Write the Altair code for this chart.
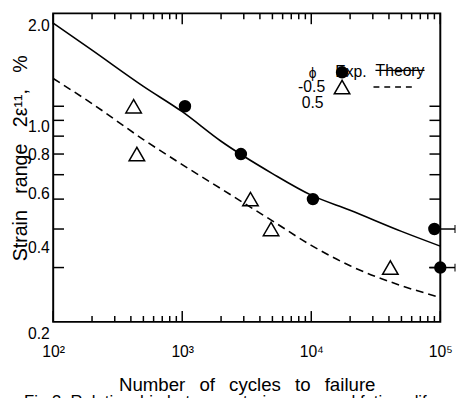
import altair as alt
import pandas as pd

# ---------------- data ----------------
# experiments, phi = -0.5 (filled circles) and phi = 0.5 (open triangles)
n_circle = [1050, 2850, 10300, 90000, 100000]
s_circle = [1.0, 0.7, 0.5, 0.4, 0.3]
n_triangle = [420, 445, 3380, 4880, 41000]
s_triangle = [1.0, 0.7, 0.5, 0.4, 0.3]

# horizontal scatter bars of the two right-most circles
err_n = [90000, 100000]
err_s = [0.4, 0.3]
err_lo = [85000, 82000]
err_hi = [130000, 130000]

# theory curves
n_theory = [100, 200, 500, 1000, 2000, 5000, 10000, 20000, 50000, 100000]
s_theory_solid = [1.86, 1.52, 1.16, 0.96, 0.77, 0.605, 0.515, 0.46, 0.393, 0.352]
s_theory_dashed = [1.23, 1.02, 0.78, 0.647, 0.54, 0.425, 0.354, 0.304, 0.262, 0.240]

# axis ticks / labels
x_major = [100, 1000, 10000, 100000]
x_minor = [200, 300, 400, 500, 600, 700, 800, 900,
           2000, 3000, 4000, 5000, 6000, 7000, 8000, 9000,
           20000, 30000, 40000, 50000, 60000, 70000, 80000, 90000]
y_ticks = [0.3, 0.4, 0.5, 0.6, 0.7, 0.8, 0.9, 1.0]
y_labels = [0.2, 0.4, 0.6, 0.8, 1.0, 2.0]

GAP_X = "\u00a0\u00a0\u2009"
GAP_Y = "\u00a0\u00a0\u00a0"
x_title = GAP_X.join(["Number", "of", "cycles", "to", "failure"])
y_title = GAP_Y.join(["Strain", "range", "2\u03b5\u00b9\u00b9,", "%"])
caption = "Fig.3\u00a0\u00a0Relationship\u00a0between\u00a0strain\u00a0range\u00a0and\u00a0fatigue\u00a0life"

legend_phi = "\u03d5"
legend_exp = "Exp."
legend_theory = "Theory"
legend_neg = "-0.5"
legend_pos = "0.5"

FONT = "Liberation Sans"
W, H = 394, 314

xs = alt.Scale(type="log", domain=[100, 100000], nice=False)
ys = alt.Scale(type="log", domain=[0.2, 2.0], nice=False)

circles = pd.DataFrame({"n": n_circle, "s": s_circle})
triangles = pd.DataFrame({"n": n_triangle, "s": s_triangle})
errs = pd.DataFrame({"n": err_n, "s": err_s, "lo": err_lo, "hi": err_hi})
theory = pd.DataFrame({"n": n_theory, "solid": s_theory_solid, "dashed": s_theory_dashed})
xmaj = pd.DataFrame({"n": x_major})
xmin = pd.DataFrame({"n": x_minor})
ytk = pd.DataFrame({"s": y_ticks})

label_expr = ("datum.value == 100 ? '10\u00b2' : datum.value == 1000 ? '10\u00b3' : "
              "datum.value == 10000 ? '10\u2074' : '10\u2075'")

x_axis = alt.Axis(values=x_major, labelExpr=label_expr, tickSize=0, domain=False, grid=False,
                  labelPadding=22, labelFlush=False, labelOverlap=False, labelFontSize=16,
                  labelFont=FONT, labelColor="black",
                  title=x_title, titleFontSize=19, titleFontWeight="normal", titleFont=FONT,
                  titleColor="black", titleY=64, titleBaseline="middle")
y_axis = alt.Axis(values=y_labels, format=".1f", tickSize=0, domain=False, grid=False,
                  labelPadding=4, labelFontSize=16, labelOverlap=False, labelFlush=False,
                  labelFont=FONT, labelColor="black",
                  labelOffset={"condition": [
                      {"test": "datum.value > 1.5", "value": 12},
                      {"test": "datum.value > 0.9", "value": 21},
                      {"test": "datum.value < 0.3", "value": 12}],
                      "value": 19},
                  title=y_title, titleFontSize=20, titleFontWeight="normal", titleFont=FONT,
                  titleColor="black",
                  titleAngle=270, titleX=-33, titleY=147, titleBaseline="middle",
                  titleAlign="center")


def X(field):
    return alt.X(field, scale=xs, axis=x_axis)


def Y(field):
    return alt.Y(field, scale=ys, axis=y_axis)


solid = alt.Chart(theory).mark_line(color="black", strokeWidth=1.6, interpolate="monotone").encode(
    x=X("n:Q"), y=Y("solid:Q"))
dashed = alt.Chart(theory).mark_line(color="black", strokeWidth=1.6, strokeDash=[8, 5],
                                     interpolate="monotone").encode(
    x=X("n:Q"), y=Y("dashed:Q"))


def xtick(df, y0, y1):
    return alt.Chart(df).mark_rule(color="black", strokeWidth=1.5).encode(
        x=X("n:Q"), y=alt.value(y0), y2=alt.value(y1))


def ytick(x0, x1):
    return alt.Chart(ytk).mark_rule(color="black", strokeWidth=1.5).encode(
        y=Y("s:Q"), x=alt.value(x0), x2=alt.value(x1))


ticks = [
    xtick(xmaj, H, H - 11), xtick(xmin, H, H - 6),
    xtick(xmaj, 0, 11), xtick(xmin, 0, 6),
    ytick(0, 11), ytick(W, W - 11),
]

err_rule = alt.Chart(errs).mark_rule(color="black", strokeWidth=1.5, clip=False).encode(
    x=X("lo:Q"), x2="hi:Q", y=Y("s:Q"))
err_cap = alt.Chart(errs).mark_tick(color="black", orient="vertical", size=8, thickness=1.5,
                                    clip=False).encode(
    x=X("hi:Q"), y=Y("s:Q"))

circ = alt.Chart(circles).mark_circle(color="black", opacity=1, size=160, clip=False).encode(
    x=X("n:Q"), y=Y("s:Q"))
tri = alt.Chart(triangles).mark_point(shape="triangle-up", filled=False, color="black",
                                      opacity=1, size=250, strokeWidth=1.5).encode(
    x=X("n:Q"), y=Y("s:Q"))


def txt(s, x, y, size=16, align="center"):
    return alt.Chart(pd.DataFrame({"t": [s]})).mark_text(
        font=FONT, fontSize=size, color="black", align=align, baseline="middle").encode(
        text="t:N", x=alt.value(x), y=alt.value(y))


legend = [
    txt(legend_phi, 264, 62, size=14),
    txt(legend_exp, 303, 60),
    txt(legend_theory, 353, 59),
    txt(legend_neg, 263, 75),
    txt(legend_pos, 264, 91),
    alt.Chart(pd.DataFrame({"t": [legend_exp]})).mark_circle(color="black", opacity=1, size=160).encode(
        x=alt.value(294), y=alt.value(60)),
    alt.Chart(pd.DataFrame({"t": [legend_neg]})).mark_point(shape="triangle-up", filled=False,
        color="black", opacity=1, size=250, strokeWidth=1.5).encode(x=alt.value(294), y=alt.value(75)),
    alt.Chart(pd.DataFrame({"t": [legend_theory]})).mark_rule(color="black", strokeWidth=1.5).encode(
        x=alt.value(328), x2=alt.value(378), y=alt.value(58)),
    alt.Chart(pd.DataFrame({"t": [legend_neg]})).mark_rule(color="black", strokeWidth=1.5,
        strokeDash=[6, 5]).encode(x=alt.value(326), x2=alt.value(368), y=alt.value(75)),
]

cap = alt.Chart(pd.DataFrame({"t": [caption]})).mark_text(
    font=FONT, fontSize=17, color="black", align="center", baseline="top").encode(
    text="t:N", x=alt.value(180), y=alt.value(388))

chart = alt.layer(solid, dashed, *ticks, err_rule, err_cap, circ, tri, *legend, cap).properties(
    width=W, height=H,
    background="white",
    autosize=alt.AutoSizeParams(type="none"),
    padding={"left": 46, "top": 2, "right": 17, "bottom": 74},
).configure_view(stroke="black", strokeWidth=2)

chart.save("out.html", embed_options={"renderer": "svg", "actions": False})
